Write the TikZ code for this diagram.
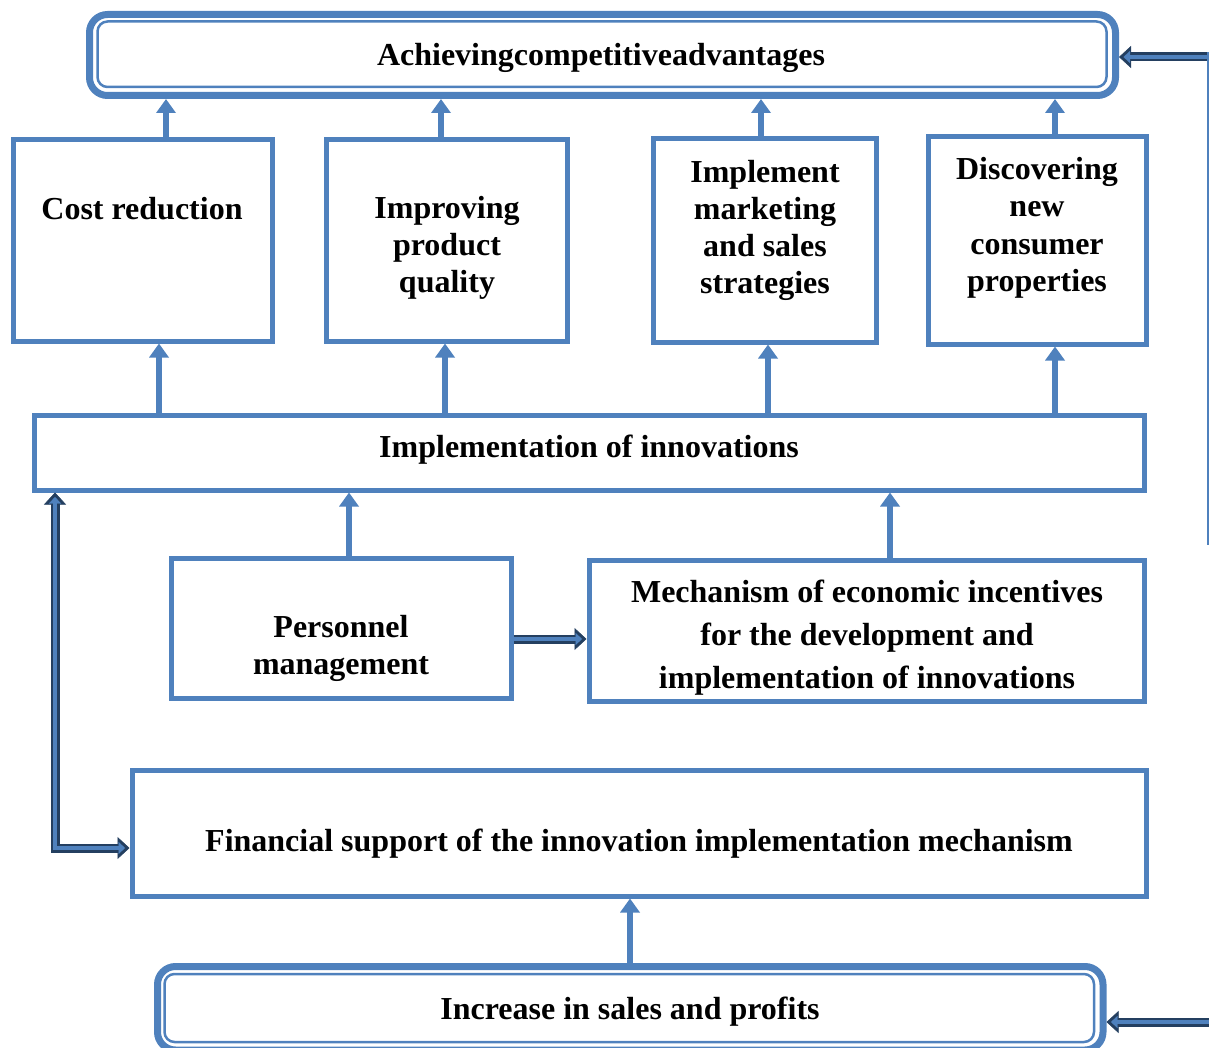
\documentclass[tikz,border=0pt]{standalone}
\usepackage{fontspec}
\setmainfont{Liberation Serif}
\usetikzlibrary{arrows.meta}
\definecolor{mblue}{HTML}{4F81BD}
\definecolor{navy}{HTML}{243F60}
\tikzset{
  box/.style={draw=mblue, line width=5pt, rectangle, inner sep=0pt},
  rbox/.style={draw=mblue, line width=7pt, rectangle, rounded corners=18pt, inner sep=0pt},
  inner/.style={draw=mblue, line width=2.5pt, rounded corners=10pt},
  lbl/.style={font=\bfseries\fontsize{32}{37}\selectfont, align=center, inner sep=0pt},
  barrow/.style={draw=mblue, line width=6pt, -{Triangle[length=14pt,width=19pt]}},
  darr/.style={draw=navy, line width=9pt, -{Triangle[length=12pt,width=22pt,line width=0.5pt]},
    postaction={draw=mblue, line width=4pt, shorten >=4.5pt, -{Triangle[length=6.5pt,width=12pt,line width=0.1pt]}}},
  darrb/.style={draw=navy, line width=9pt, {Triangle[length=12pt,width=22pt,line width=0.5pt]}-{Triangle[length=12pt,width=22pt,line width=0.5pt]},
    postaction={draw=mblue, line width=4pt, shorten >=4.5pt, shorten <=4.5pt, {Triangle[length=6.5pt,width=12pt,line width=0.1pt]}-{Triangle[length=6.5pt,width=12pt,line width=0.1pt]}}},
}
\begin{document}
\begin{tikzpicture}[x=1pt,y=-1pt]
\useasboundingbox (0,0) rectangle (1209,1048);
\begin{scope}
\clip (0,0) rectangle (1209,1048);
% boxes
\node[rbox, minimum width=1026pt, minimum height=81pt] (top) at (602.5,55) {};
\draw[inner] ([shift={(11.5pt,-10.5pt)}]top.north west) rectangle ([shift={(-12.5pt,12pt)}]top.south east);
\node[box, minimum width=259pt, minimum height=201pt] (cost) at (142.5,240.5) {};
\node[box, minimum width=241pt, minimum height=201pt] (qual) at (446.5,240.5) {};
\node[box, minimum width=223pt, minimum height=203pt] (mkt) at (764.5,240.5) {};
\node[box, minimum width=218pt, minimum height=207pt] (disc) at (1037,240.5) {};
\node[box, minimum width=1110pt, minimum height=75pt] (impl) at (589,452.5) {};
\node[box, minimum width=340pt, minimum height=140pt] (pers) at (341,628) {};
\node[box, minimum width=555pt, minimum height=141pt] (mech) at (866.5,630.5) {};
\node[box, minimum width=1014pt, minimum height=126pt] (fin) at (639,833) {};
\node[rbox, minimum width=945.5pt, minimum height=83.5pt] (bot) at (630.25,1008.25) {};
\draw[inner] ([shift={(10.5pt,-11pt)}]bot.north west) rectangle ([shift={(-12.5pt,11.5pt)}]bot.south east);
% labels
\node[lbl] (ltop) at (601,58) {Achievingcompetitiveadvantages};
\node[lbl] (lcost) at (142,209) {Cost reduction};
\node[lbl] (lqual) at (447,248) {Improving\\product\\quality};
\node[lbl] (lmkt) at (765,230) {Implement\\marketing\\and sales\\strategies};
\node[lbl, font=\bfseries\fontsize{32}{37.5}\selectfont] (ldisc) at (1037,228) {Discovering\\new\\consumer\\properties};
\node[lbl] (limpl) at (589,450) {Implementation of innovations};
\node[lbl] (lpers) at (341,648) {Personnel\\management};
\node[lbl, font=\bfseries\fontsize{32}{43}\selectfont] (lmech) at (867,638) {Mechanism of economic incentives\\for the development and\\implementation of innovations};
\node[lbl] (lfin) at (639,844) {Financial support of the innovation implementation mechanism};
\node[lbl] (lbot) at (630,1012) {Increase in sales and profits};
% x positions of arrows
\coordinate (a1) at (166,0);
\coordinate (a2) at (441,0);
\coordinate (a3) at (761,0);
\coordinate (a4) at (1055,0);
\coordinate (b1) at (159,0);
\coordinate (b2) at (445,0);
\coordinate (b3) at (768,0);
\coordinate (b4) at (1055,0);
\coordinate (c1) at (349,0);
\coordinate (c2) at (890,0);
\coordinate (d1) at (630,0);
% blue arrows
\draw[barrow] (cost.north -| a1) -- (top.south -| a1);
\draw[barrow] (qual.north -| a2) -- (top.south -| a2);
\draw[barrow] (mkt.north -| a3) -- (top.south -| a3);
\draw[barrow] (disc.north -| a4) -- (top.south -| a4);
\draw[barrow] (impl.north -| b1) -- (cost.south -| b1);
\draw[barrow] (impl.north -| b2) -- (qual.south -| b2);
\draw[barrow] (impl.north -| b3) -- (mkt.south -| b3);
\draw[barrow] (impl.north -| b4) -- (disc.south -| b4);
\draw[barrow] (pers.north -| c1) -- (impl.south -| c1);
\draw[barrow] (mech.north -| c2) -- (impl.south -| c2);
\draw[barrow] (bot.north -| d1) -- (fin.south -| d1);
% dark double arrows
\coordinate (pm) at (0,639);
\draw[darr] (pers.east |- pm) -- (mech.west |- pm);
\coordinate (lc) at (55,848);
\draw[darrb] (impl.south -| lc) -- (lc) -- (fin.west |- lc);
\coordinate (r1) at (1212,57);
\draw[darr] (r1) -- (top.east |- r1);
\coordinate (r2) at (1212,1022);
\draw[darr] (r2) -- (bot.east |- r2);
% right edge line
\coordinate (rv1) at (1208,52);
\coordinate (rv2) at (1208,545);
\draw[mblue, line width=3pt] (rv1) -- (rv2);
\end{scope}
\end{tikzpicture}
\end{document}
